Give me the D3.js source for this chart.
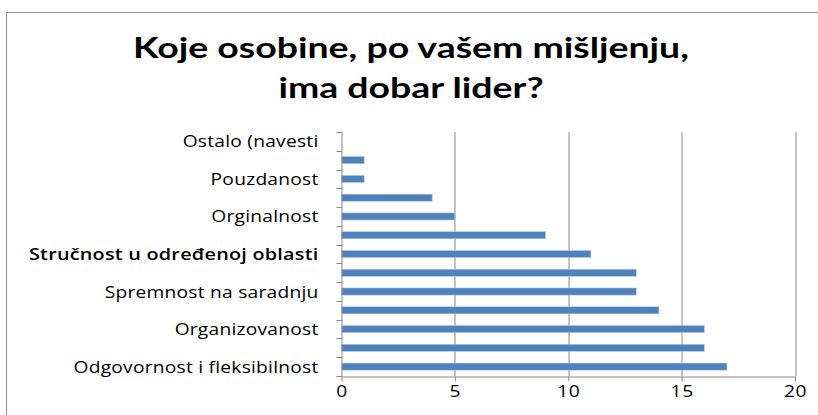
<!DOCTYPE html>
<html>
<head>
<meta charset="utf-8">
<script src="https://cdn.jsdelivr.net/npm/d3@7"></script>
<style>
  body { margin: 0; background: #fff; }
  svg { display: block; }
</style>
</head>
<body>
<script>
// chart data, top row first
var categories = ["Ostalo (navesti", "", "Pouzdanost", "", "Orginalnost", "",
    "Stručnost u određenoj oblasti", "", "Spremnost na saradnju", "",
    "Organizovanost", "", "Odgovornost i fleksibilnost"];
var values = [0, 1, 1, 4, 5, 9, 11, 13, 13, 14, 16, 16, 17];
var xTicks = [0, 5, 10, 15, 20];
var titleLines = ["Koje osobine, po vašem mišljenju,", "ima dobar lider?"];

const W = 818, H = 415;
const margins = {top: 132, right: 23, bottom: 39, left: 341.5};
const width = W - margins.left - margins.right,
    height = H - margins.top - margins.bottom;
// the original picture is stretched horizontally, so is its text
const stretch = 1.2;

var svg = d3.select("body").append("svg")
    .attr("width", W)
    .attr("height", H);

// outer frame
svg.append("rect")
    .attr("x", 6.5).attr("y", 12.5)
    .attr("width", W).attr("height", H)
    .attr("fill", "none")
    .attr("stroke", "#8c8c8c");

// title
svg.append("g")
    .attr("transform", "translate(411,0) scale(1.29,1)")
    .selectAll("text")
    .data(titleLines)
    .enter().append("text")
    .attr("x", 0)
    .attr("y", function(d, i) { return 58 + i * 40; })
    .attr("text-anchor", "middle")
    .style("font-family", "Lato, 'Open Sans', sans-serif")
    .style("font-weight", "bold")
    .style("font-size", "29px")
    .attr("fill", "#000")
    .text(function(d) { return d; });

var g = svg.append("g")
    .attr("transform", "translate(" + margins.left + "," + margins.top + ")");

var xScale = d3.scaleLinear().domain([0, 20]).range([0, width]);
var yScale = d3.scaleBand()
    .domain(d3.range(categories.length))
    .range([0, height])
    .paddingInner(0.62)
    .paddingOuter(0.31);

// vertical gridlines
g.append("g").selectAll("line")
    .data(xTicks.slice(1))
    .enter().append("line")
    .attr("x1", function(d) { return Math.round(xScale(d)) + 0.5; })
    .attr("x2", function(d) { return Math.round(xScale(d)) + 0.5; })
    .attr("y1", 0).attr("y2", height)
    .attr("stroke", "#8a8a8a");

// bars
g.append("g").selectAll("rect")
    .data(values)
    .enter().append("rect")
    .attr("x", 0)
    .attr("y", function(d, i) { return yScale(i); })
    .attr("width", function(d) { return xScale(d); })
    .attr("height", yScale.bandwidth())
    .attr("fill", "#4f81bd")
    .attr("stroke", "#b9cde5")
    .attr("stroke-width", 0.6);

// y axis with category boundary ticks
var yAx = g.append("g");
yAx.append("line")
    .attr("x1", 0.5).attr("x2", 0.5)
    .attr("y1", 0).attr("y2", height)
    .attr("stroke", "#8a8a8a");
yAx.selectAll(".ytick")
    .data(d3.range(categories.length + 1))
    .enter().append("line")
    .attr("class", "ytick")
    .attr("x1", -5).attr("x2", 0.5)
    .attr("y1", function(d) { return Math.round(d * height / categories.length) + 0.5; })
    .attr("y2", function(d) { return Math.round(d * height / categories.length) + 0.5; })
    .attr("stroke", "#8a8a8a");
yAx.selectAll("text")
    .data(categories)
    .enter().append("text")
    .attr("transform", function(d, i) {
        return "translate(-23," + (yScale(i) + yScale.bandwidth() / 2 + 6) + ") scale(" + stretch + ",1)";
    })
    .attr("text-anchor", "end")
    .style("font-family", "'Open Sans', sans-serif")
    .style("font-size", function(d, i) { return i === 6 ? "16.5px" : "16px"; })
    .style("letter-spacing", "0.2px")
    .style("font-weight", function(d, i) { return i === 6 ? 600 : 400; })
    .attr("fill", "#000")
    .text(function(d) { return d; });

// x axis
var xAxis = d3.axisBottom(xScale)
    .tickValues(xTicks)
    .tickSize(5)
    .tickSizeOuter(0)
    .tickPadding(9);
var xg = g.append("g")
    .attr("transform", "translate(0," + (height + 0.5) + ")")
    .call(xAxis);
xg.select(".domain").attr("stroke", "#8a8a8a");
xg.selectAll(".tick line").attr("stroke", "#8a8a8a");
xg.selectAll("text")
    .attr("transform", "scale(" + stretch + ",1)")
    .attr("y", 9)
    .style("font-family", "'Open Sans', sans-serif")
    .style("font-size", "16px")
    .style("letter-spacing", "0.5px")
    .attr("fill", "#000");
</script>
</body>
</html>
